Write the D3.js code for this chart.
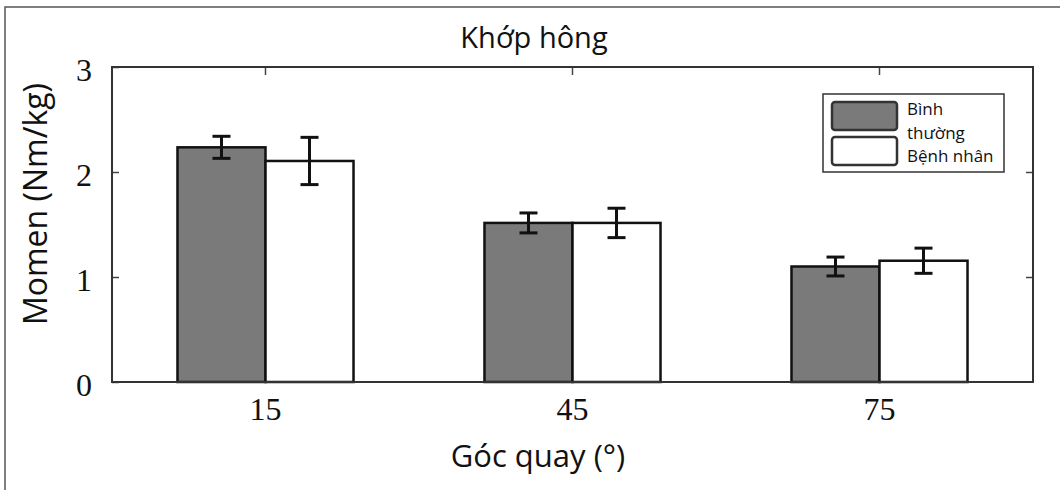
<!DOCTYPE html>
<html>
<head>
<meta charset="utf-8">
<script src="https://cdn.jsdelivr.net/npm/d3@7"></script>
<style>
  body { margin: 0; background: #fff; }
</style>
</head>
<body>
<div id="chart"></div>
<script>
// data
const categories = ["15", "45", "75"];
const seriesNames = ["Bình thường", "Bệnh nhân"];
const normalMean = [2.235, 1.515, 1.10];
const normalErr = [0.105, 0.095, 0.09];
const patientMean = [2.105, 1.515, 1.155];
const patientErr = [0.225, 0.14, 0.12];
const yTicks = [0, 1, 2, 3];

const width = 1060, height = 490;
const margin = { top: 67, right: 27, bottom: 108, left: 112 };
const innerW = width - margin.left - margin.right;
const innerH = height - margin.top - margin.bottom;

const svg = d3.select("#chart").append("svg")
  .attr("width", width)
  .attr("height", height);

// outer frame of the figure
svg.append("rect")
  .attr("x", 5).attr("y", 7)
  .attr("width", width + 20).attr("height", height + 20)
  .attr("fill", "none")
  .attr("stroke", "#555")
  .attr("stroke-width", 1.5);

const g = svg.append("g")
  .attr("transform", `translate(${margin.left},${margin.top})`);

const x = d3.scaleBand().domain(categories).range([0, innerW]);
const xSub = d3.scaleBand().domain(seriesNames)
  .range([0, x.bandwidth()])
  .paddingOuter(0.744);
const y = d3.scaleLinear().domain([0, 3]).range([innerH, 0]);

const rows = categories.map((c, i) => ([
  { cat: c, key: seriesNames[0], v: normalMean[i], e: normalErr[i], fill: "#7a7a7a" },
  { cat: c, key: seriesNames[1], v: patientMean[i], e: patientErr[i], fill: "#fff" }
]));

const serif = "'Liberation Serif', 'Times New Roman', serif";
const sans = "'Open Sans', 'Noto Sans', sans-serif";

// left axis, ticks pointing inward
const yAxis = g.append("g")
  .call(d3.axisLeft(y).tickValues(yTicks).tickSize(-7).tickPadding(20).tickFormat(d3.format("d")));
yAxis.select(".domain").remove();
yAxis.selectAll("line").attr("stroke", "#444").attr("stroke-width", 1.5);
yAxis.selectAll("text")
  .attr("dy", "0.42em")
  .style("font-family", serif)
  .style("font-size", "32px")
  .style("fill", "#111");

// right axis ticks (inward)
const yRight = g.append("g")
  .attr("transform", `translate(${innerW},0)`)
  .call(d3.axisRight(y).tickValues([1, 2]).tickSize(-7).tickFormat(""));
yRight.select(".domain").remove();
yRight.selectAll("line").attr("stroke", "#444").attr("stroke-width", 1.5);

// top axis ticks at categories
const xTop = g.append("g")
  .call(d3.axisTop(x).tickSize(-8).tickFormat(""));
xTop.select(".domain").remove();
xTop.selectAll("line").attr("stroke", "#444").attr("stroke-width", 1.5);

// bottom axis labels
const xAxis = g.append("g")
  .attr("transform", `translate(0,${innerH})`)
  .call(d3.axisBottom(x).tickSize(0).tickPadding(15));
xAxis.select(".domain").remove();
xAxis.selectAll("text")
  .style("font-family", serif)
  .style("font-size", "32px")
  .style("fill", "#111");

// bars
const groups = g.selectAll(".grp")
  .data(rows)
  .join("g")
  .attr("class", "grp")
  .attr("transform", d => `translate(${x(d[0].cat)},0)`);

groups.selectAll("rect")
  .data(d => d)
  .join("rect")
  .attr("x", d => xSub(d.key))
  .attr("width", xSub.bandwidth())
  .attr("y", d => y(d.v))
  .attr("height", d => y(0) - y(d.v))
  .attr("fill", d => d.fill)
  .attr("stroke", "#111")
  .attr("stroke-width", 2.5);

// error bars
const capW = 9;
const err = groups.selectAll(".err")
  .data(d => d)
  .join("g")
  .attr("class", "err")
  .attr("transform", d => `translate(${xSub(d.key) + xSub.bandwidth() / 2},0)`)
  .attr("stroke", "#111")
  .attr("stroke-width", 3);
err.append("line")
  .attr("y1", d => y(d.v + d.e)).attr("y2", d => y(d.v - d.e));
err.append("line")
  .attr("x1", -capW).attr("x2", capW)
  .attr("y1", d => y(d.v + d.e)).attr("y2", d => y(d.v + d.e));
err.append("line")
  .attr("x1", -capW).attr("x2", capW)
  .attr("y1", d => y(d.v - d.e)).attr("y2", d => y(d.v - d.e));

// plot frame
g.append("rect")
  .attr("width", innerW).attr("height", innerH)
  .attr("fill", "none")
  .attr("stroke", "#333")
  .attr("stroke-width", 2);

// title and axis labels
svg.append("text")
  .attr("x", 534).attr("y", 48)
  .attr("text-anchor", "middle")
  .style("font-family", sans)
  .style("font-size", "29px")
  .style("fill", "#111")
  .text("Khớp hông");

svg.append("text")
  .attr("transform", `translate(47,204) rotate(-90)`)
  .attr("text-anchor", "middle")
  .style("font-family", sans)
  .style("font-size", "32px")
  .style("fill", "#111")
  .text("Momen (Nm/kg)");

svg.append("text")
  .attr("x", 538).attr("y", 467)
  .attr("text-anchor", "middle")
  .style("font-family", sans)
  .style("font-size", "31px")
  .style("fill", "#111")
  .text("Góc quay (°)");

// legend
const legend = svg.append("g").attr("transform", "translate(823,94)");
legend.append("rect")
  .attr("width", 181).attr("height", 78)
  .attr("fill", "#fff")
  .attr("stroke", "#333")
  .attr("stroke-width", 1.5);
legend.selectAll(".sw")
  .data([{ fill: "#7a7a7a", y: 8 }, { fill: "#fff", y: 43 }])
  .join("rect")
  .attr("class", "sw")
  .attr("x", 9).attr("y", d => d.y)
  .attr("width", 65).attr("height", 28)
  .attr("rx", 3)
  .attr("fill", d => d.fill)
  .attr("stroke", "#333")
  .attr("stroke-width", 2.5);
const legText = legend.append("text")
  .attr("x", 84)
  .style("font-family", sans)
  .style("font-size", "17px")
  .style("fill", "#111");
const firstWords = seriesNames[0].split(" ");
legText.append("tspan").attr("x", 84).attr("y", 21).text(firstWords[0]);
legText.append("tspan").attr("x", 84).attr("y", 45).text(firstWords[1]);
legText.append("tspan").attr("x", 84).attr("y", 68).text(seriesNames[1]);
</script>
</body>
</html>
